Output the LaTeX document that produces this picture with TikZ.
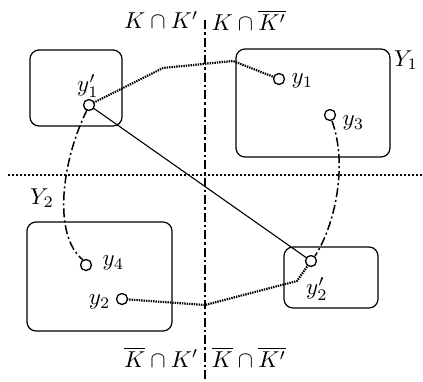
\documentclass[tikz,border=0pt]{standalone}
\begin{document}
\begin{tikzpicture}[x=1pt,y=-1pt,
  box/.style={draw,line width=1.2pt,rounded corners=9pt},
  pt/.style={circle,draw,line width=1.3pt,inner sep=0pt,minimum size=11pt,fill=white},
  lbl/.style={scale=2.3,transform shape,inner sep=0.5pt},
  dotline/.style={line width=2.2pt,dash pattern=on 1.4pt off 1pt},
  dashdot/.style={line width=1.5pt,dash pattern=on 9pt off 3pt on 2pt off 3pt},
  solid line/.style={line width=1.1pt}]
\useasboundingbox (0,0) rectangle (423,381);
% separators
\coordinate (vt) at (205,20);
\coordinate (vb) at (205,380);
\coordinate (hl) at (8,175);
\coordinate (hr) at (423,175);
\draw[line width=2.2pt,dash pattern=on 9pt off 3pt on 2.5pt off 3pt] (vt) -- (vb);
\draw[line width=2.2pt,dash pattern=on 2pt off 2pt] (hl) -- (hr);
% boxes
\draw[box] (30,50) rectangle (122,126);
\draw[box] (236,49) rectangle (390,157);
\draw[box] (27,222) rectangle (172,331);
\draw[box] (284,247) rectangle (378,308);
% box labels
\node[lbl] (Y1) at (406,60) {$Y_1$};
\node[lbl] (Y2) at (42,198) {$Y_2$};
% region labels
\node[lbl,anchor=east] (kk) at (200,20) {$K\cap K'$};
\node[lbl,anchor=west] (kkb) at (210,20) {$K\cap \overline{K'}$};
\node[lbl,anchor=east] (kbk) at (200,357) {$\overline{K}\cap K'$};
\node[lbl,anchor=west] (kbkb) at (210,357) {$\overline{K}\cap \overline{K'}$};
% connector coordinates
\coordinate (a1) at (163,68);
\coordinate (a2) at (233,61);
\coordinate (b1) at (205,305);
\coordinate (b2) at (297,281);
% connectors
\draw[dotline] (89,105) -- (a1) -- (a2) -- (279,79);
\draw[dotline] (122,299) -- (b1) -- (b2) -- (311,261);
\draw[solid line] (89,105) -- (311,261);
\draw[dashdot] (87,110) .. controls (62,160) and (52,235) .. (83,260);
\draw[dashdot] (332,121) .. controls (348,165) and (335,225) .. (315,256);
% points
\node[pt] (y1p) at (89,105) {};
\node[pt] (y1) at (279,79) {};
\node[pt] (y3) at (330,115) {};
\node[pt] (y4) at (86,265) {};
\node[pt] (y2) at (122,299) {};
\node[pt] (y2p) at (311,261) {};
% point labels
\node[lbl] at (88,86) {$y_1'$};
\node[lbl,anchor=west] at (290,81) {$y_1$};
\node[lbl,anchor=west] at (341,123) {$y_3$};
\node[lbl,anchor=west] at (101,263) {$y_4$};
\node[lbl,anchor=east] at (112,302) {$y_2$};
\node[lbl] at (317,289) {$y_2'$};
\end{tikzpicture}
\end{document}
